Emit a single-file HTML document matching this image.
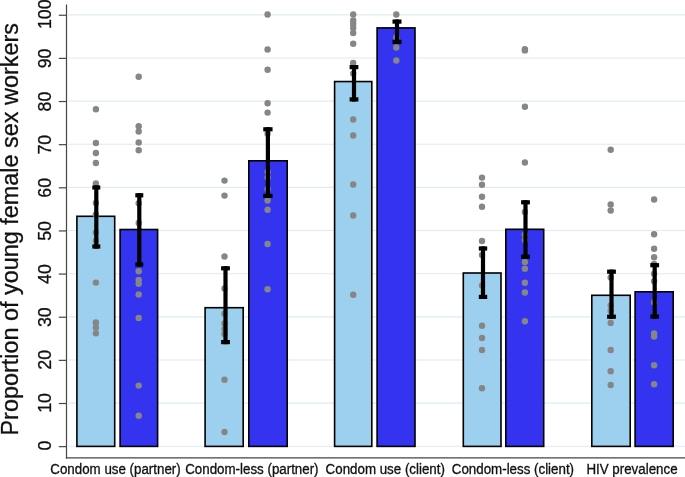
<!DOCTYPE html>
<html lang="en"><head><meta charset="utf-8"><title>Proportion of young female sex workers</title>
<style>html,body{margin:0;padding:0;background:#fff}body{width:685px;height:477px;overflow:hidden}svg{display:block;will-change:transform}text{font-family:"Liberation Sans",Arial,Helvetica,sans-serif;fill:#111;stroke:#111;stroke-width:.3px;stroke-linejoin:round}</style></head><body>
<svg width="685" height="477" viewBox="0 0 685 477">
<rect width="685" height="477" fill="#fff"/>
<g stroke="#deecf0" stroke-width="1.1">
<line x1="68.2" y1="446.25" x2="685" y2="446.25"/>
<line x1="68.2" y1="403.11" x2="685" y2="403.11"/>
<line x1="68.2" y1="359.97" x2="685" y2="359.97"/>
<line x1="68.2" y1="316.83" x2="685" y2="316.83"/>
<line x1="68.2" y1="273.69" x2="685" y2="273.69"/>
<line x1="68.2" y1="230.55" x2="685" y2="230.55"/>
<line x1="68.2" y1="187.41" x2="685" y2="187.41"/>
<line x1="68.2" y1="144.27" x2="685" y2="144.27"/>
<line x1="68.2" y1="101.13" x2="685" y2="101.13"/>
<line x1="68.2" y1="57.99" x2="685" y2="57.99"/>
<line x1="68.2" y1="14.85" x2="685" y2="14.85"/>
</g>
<g stroke="#454545" stroke-width="1.2" fill="none">
<line x1="66.5" y1="4.4" x2="66.5" y2="458.5"/>
<line x1="65.8" y1="457.9" x2="685" y2="457.9"/>
<line x1="58.8" y1="446.65" x2="66.5" y2="446.65"/>
<line x1="58.8" y1="403.51" x2="66.5" y2="403.51"/>
<line x1="58.8" y1="360.37" x2="66.5" y2="360.37"/>
<line x1="58.8" y1="317.23" x2="66.5" y2="317.23"/>
<line x1="58.8" y1="274.09" x2="66.5" y2="274.09"/>
<line x1="58.8" y1="230.95" x2="66.5" y2="230.95"/>
<line x1="58.8" y1="187.81" x2="66.5" y2="187.81"/>
<line x1="58.8" y1="144.67" x2="66.5" y2="144.67"/>
<line x1="58.8" y1="101.53" x2="66.5" y2="101.53"/>
<line x1="58.8" y1="58.39" x2="66.5" y2="58.39"/>
<line x1="58.8" y1="15.25" x2="66.5" y2="15.25"/>
</g>
<g stroke="#000" stroke-width="1.6">
<rect x="76.90" y="216.30" width="37.80" height="230.10" fill="#9dcfee"/>
<rect x="120.10" y="229.50" width="37.50" height="216.90" fill="#3333f0"/>
<rect x="205.10" y="307.70" width="38.10" height="138.70" fill="#9dcfee"/>
<rect x="248.80" y="160.80" width="38.40" height="285.60" fill="#3333f0"/>
<rect x="334.60" y="81.55" width="37.20" height="364.85" fill="#9dcfee"/>
<rect x="377.10" y="27.90" width="37.90" height="418.50" fill="#3333f0"/>
<rect x="463.30" y="273.00" width="37.70" height="173.40" fill="#9dcfee"/>
<rect x="505.80" y="229.30" width="37.90" height="217.10" fill="#3333f0"/>
<rect x="591.80" y="295.30" width="38.40" height="151.10" fill="#9dcfee"/>
<rect x="635.10" y="291.80" width="38.10" height="154.60" fill="#3333f0"/>
</g>
<g fill="#868686">
<circle cx="95.9" cy="109.2" r="3.2"/>
<circle cx="95.9" cy="143.0" r="3.2"/>
<circle cx="95.9" cy="153.0" r="3.2"/>
<circle cx="95.9" cy="163.0" r="3.2"/>
<circle cx="95.9" cy="183.5" r="3.2"/>
<circle cx="95.9" cy="203.0" r="3.2"/>
<circle cx="95.9" cy="214.5" r="3.2"/>
<circle cx="95.9" cy="232.5" r="3.2"/>
<circle cx="95.9" cy="240.8" r="3.2"/>
<circle cx="95.9" cy="282.6" r="3.2"/>
<circle cx="95.9" cy="322.5" r="3.2"/>
<circle cx="95.9" cy="327.5" r="3.2"/>
<circle cx="95.9" cy="333.2" r="3.2"/>
<circle cx="138.7" cy="76.8" r="3.2"/>
<circle cx="138.7" cy="126.2" r="3.2"/>
<circle cx="138.7" cy="131.5" r="3.2"/>
<circle cx="138.7" cy="142.5" r="3.2"/>
<circle cx="138.7" cy="150.2" r="3.2"/>
<circle cx="138.7" cy="203.2" r="3.2"/>
<circle cx="138.7" cy="223.0" r="3.2"/>
<circle cx="138.7" cy="271.2" r="3.2"/>
<circle cx="138.7" cy="280.0" r="3.2"/>
<circle cx="138.7" cy="283.8" r="3.2"/>
<circle cx="138.7" cy="294.5" r="3.2"/>
<circle cx="138.7" cy="318.0" r="3.2"/>
<circle cx="138.7" cy="385.6" r="3.2"/>
<circle cx="138.7" cy="415.8" r="3.2"/>
<circle cx="224.5" cy="180.6" r="3.2"/>
<circle cx="224.5" cy="195.6" r="3.2"/>
<circle cx="224.5" cy="256.5" r="3.2"/>
<circle cx="224.5" cy="288.4" r="3.2"/>
<circle cx="224.5" cy="313.8" r="3.2"/>
<circle cx="224.5" cy="323.5" r="3.2"/>
<circle cx="224.5" cy="329.0" r="3.2"/>
<circle cx="224.5" cy="334.0" r="3.2"/>
<circle cx="224.5" cy="379.8" r="3.2"/>
<circle cx="224.5" cy="432.0" r="3.2"/>
<circle cx="267.6" cy="14.5" r="3.2"/>
<circle cx="267.6" cy="49.5" r="3.2"/>
<circle cx="267.6" cy="69.8" r="3.2"/>
<circle cx="267.6" cy="103.2" r="3.2"/>
<circle cx="267.6" cy="112.6" r="3.2"/>
<circle cx="267.6" cy="133.8" r="3.2"/>
<circle cx="267.6" cy="172.0" r="3.2"/>
<circle cx="267.6" cy="177.5" r="3.2"/>
<circle cx="267.6" cy="189.2" r="3.2"/>
<circle cx="267.6" cy="200.5" r="3.2"/>
<circle cx="267.6" cy="209.8" r="3.2"/>
<circle cx="267.6" cy="244.0" r="3.2"/>
<circle cx="267.6" cy="289.2" r="3.2"/>
<circle cx="353.2" cy="14.5" r="3.2"/>
<circle cx="353.2" cy="20.5" r="3.2"/>
<circle cx="353.2" cy="24.0" r="3.2"/>
<circle cx="353.2" cy="28.0" r="3.2"/>
<circle cx="353.2" cy="33.0" r="3.2"/>
<circle cx="353.2" cy="43.8" r="3.2"/>
<circle cx="353.2" cy="63.0" r="3.2"/>
<circle cx="353.2" cy="73.6" r="3.2"/>
<circle cx="353.2" cy="119.5" r="3.2"/>
<circle cx="353.2" cy="135.5" r="3.2"/>
<circle cx="353.2" cy="184.5" r="3.2"/>
<circle cx="353.2" cy="215.5" r="3.2"/>
<circle cx="353.2" cy="294.8" r="3.2"/>
<circle cx="396.3" cy="14.5" r="3.2"/>
<circle cx="396.3" cy="37.5" r="3.2"/>
<circle cx="396.3" cy="47.5" r="3.2"/>
<circle cx="396.3" cy="60.5" r="3.2"/>
<circle cx="482.0" cy="177.6" r="3.2"/>
<circle cx="482.0" cy="184.8" r="3.2"/>
<circle cx="482.0" cy="196.8" r="3.2"/>
<circle cx="482.0" cy="206.8" r="3.2"/>
<circle cx="482.0" cy="241.0" r="3.2"/>
<circle cx="482.0" cy="255.0" r="3.2"/>
<circle cx="482.0" cy="285.5" r="3.2"/>
<circle cx="482.0" cy="325.8" r="3.2"/>
<circle cx="482.0" cy="338.0" r="3.2"/>
<circle cx="482.0" cy="350.0" r="3.2"/>
<circle cx="482.0" cy="388.2" r="3.2"/>
<circle cx="524.9" cy="49.2" r="3.2"/>
<circle cx="524.9" cy="50.4" r="3.2"/>
<circle cx="524.9" cy="106.8" r="3.2"/>
<circle cx="524.9" cy="162.5" r="3.2"/>
<circle cx="524.9" cy="212.0" r="3.2"/>
<circle cx="524.9" cy="234.5" r="3.2"/>
<circle cx="524.9" cy="240.0" r="3.2"/>
<circle cx="524.9" cy="262.0" r="3.2"/>
<circle cx="524.9" cy="268.8" r="3.2"/>
<circle cx="524.9" cy="282.8" r="3.2"/>
<circle cx="524.9" cy="292.5" r="3.2"/>
<circle cx="524.9" cy="321.2" r="3.2"/>
<circle cx="610.7" cy="149.8" r="3.2"/>
<circle cx="610.7" cy="204.5" r="3.2"/>
<circle cx="610.7" cy="210.5" r="3.2"/>
<circle cx="610.7" cy="277.5" r="3.2"/>
<circle cx="610.7" cy="305.5" r="3.2"/>
<circle cx="610.7" cy="311.0" r="3.2"/>
<circle cx="610.7" cy="323.0" r="3.2"/>
<circle cx="610.7" cy="350.0" r="3.2"/>
<circle cx="610.7" cy="371.2" r="3.2"/>
<circle cx="610.7" cy="385.0" r="3.2"/>
<circle cx="654.1" cy="199.5" r="3.2"/>
<circle cx="654.1" cy="234.2" r="3.2"/>
<circle cx="654.1" cy="248.8" r="3.2"/>
<circle cx="654.1" cy="257.2" r="3.2"/>
<circle cx="654.1" cy="264.0" r="3.2"/>
<circle cx="654.1" cy="273.8" r="3.2"/>
<circle cx="654.1" cy="281.2" r="3.2"/>
<circle cx="654.1" cy="302.5" r="3.2"/>
<circle cx="654.1" cy="333.5" r="3.2"/>
<circle cx="654.1" cy="336.5" r="3.2"/>
<circle cx="654.1" cy="365.2" r="3.2"/>
<circle cx="654.1" cy="384.2" r="3.2"/>
</g>
<g stroke="#000" stroke-width="4.2" fill="none">
<line x1="96.3" y1="185.4" x2="96.3" y2="248.6"/><line x1="92.30" y1="187.50" x2="100.30" y2="187.50"/><line x1="92.30" y1="246.50" x2="100.30" y2="246.50"/>
<line x1="139.3" y1="193.2" x2="139.3" y2="266.6"/><line x1="135.30" y1="195.30" x2="143.30" y2="195.30"/><line x1="135.30" y1="264.50" x2="143.30" y2="264.50"/>
<line x1="225.5" y1="266.2" x2="225.5" y2="344.2"/><line x1="221.10" y1="268.30" x2="229.90" y2="268.30"/><line x1="221.10" y1="342.10" x2="229.90" y2="342.10"/>
<line x1="267.9" y1="127.2" x2="267.9" y2="198.0"/><line x1="263.25" y1="129.30" x2="272.55" y2="129.30"/><line x1="263.25" y1="195.90" x2="272.55" y2="195.90"/>
<line x1="354.0" y1="65.0" x2="354.0" y2="101.5"/><line x1="349.60" y1="67.10" x2="358.40" y2="67.10"/><line x1="349.60" y1="99.40" x2="358.40" y2="99.40"/>
<line x1="397.0" y1="19.5" x2="397.0" y2="44.0"/><line x1="392.50" y1="21.60" x2="401.50" y2="21.60"/><line x1="392.50" y1="41.90" x2="401.50" y2="41.90"/>
<line x1="483.0" y1="246.4" x2="483.0" y2="299.0"/><line x1="478.80" y1="248.50" x2="487.20" y2="248.50"/><line x1="478.80" y1="296.90" x2="487.20" y2="296.90"/>
<line x1="525.5" y1="200.2" x2="525.5" y2="258.8"/><line x1="521.10" y1="202.30" x2="529.90" y2="202.30"/><line x1="521.10" y1="256.70" x2="529.90" y2="256.70"/>
<line x1="611.5" y1="269.6" x2="611.5" y2="318.8"/><line x1="607.10" y1="271.70" x2="615.90" y2="271.70"/><line x1="607.10" y1="316.70" x2="615.90" y2="316.70"/>
<line x1="654.7" y1="263.1" x2="654.7" y2="318.6"/><line x1="650.30" y1="265.20" x2="659.10" y2="265.20"/><line x1="650.30" y1="316.50" x2="659.10" y2="316.50"/>
</g>
<g font-size="17.80" text-anchor="middle">
<text transform="translate(51.0 445.55) rotate(-90)">0</text>
<text transform="translate(51.0 402.91) rotate(-90)">10</text>
<text transform="translate(51.0 359.77) rotate(-90)">20</text>
<text transform="translate(51.0 317.23) rotate(-90)">30</text>
<text transform="translate(51.0 274.09) rotate(-90)">40</text>
<text transform="translate(51.0 230.95) rotate(-90)">50</text>
<text transform="translate(51.0 187.81) rotate(-90)">60</text>
<text transform="translate(51.0 144.67) rotate(-90)">70</text>
<text transform="translate(51.0 101.53) rotate(-90)">80</text>
<text transform="translate(51.0 58.39) rotate(-90)">90</text>
<text transform="translate(51.0 14.25) rotate(-90)">100</text>
</g>
<text font-size="23.42" text-anchor="middle" transform="translate(18.2 229.3) rotate(-90)">Proportion of young female sex workers</text>
<g font-size="13.35">
<text transform="translate(50.3 473.6) scale(1 1.08)">Condom use (partner)</text>
<text transform="translate(185.2 473.6) scale(1 1.08)">Condom-less (partner)</text>
<text transform="translate(325.6 473.6) scale(1 1.08)">Condom use (client)</text>
<text transform="translate(451.8 473.6) scale(1 1.08)">Condom-less (client)</text>
<text transform="translate(586.4 473.6) scale(1 1.08)">HIV prevalence</text>
</g>
</svg></body></html>
